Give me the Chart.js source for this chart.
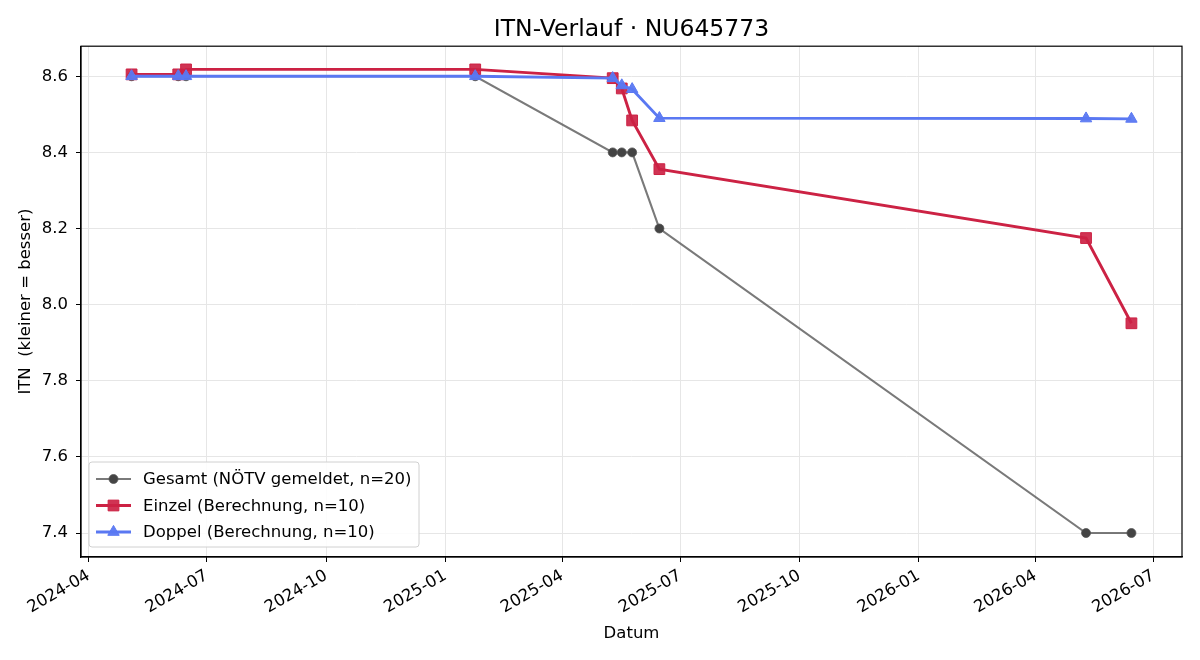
<!DOCTYPE html>
<html><head><meta charset="utf-8">
<script src="https://cdn.jsdelivr.net/npm/chart.js@4.4.1/dist/chart.umd.min.js"></script>
<style>html,body{margin:0;padding:0;background:#fff}#wrap{width:1200px;height:660px}</style>
</head><body><div id="wrap"><canvas id="c" width="1200" height="660"></canvas></div>
<script>
const dates = ['2024-05-04','2024-06-09','2024-06-15','2025-01-24','2025-05-10','2025-05-17','2025-05-25','2025-06-15','2026-05-10','2026-06-14'];
const gesamt = [8.6, 8.6, 8.6, 8.6, 8.4, 8.4, 8.4, 8.2, 7.4, 7.4];
const einzel = [8.605, 8.605, 8.618, 8.618, 8.595, 8.568, 8.484, 8.356, 8.175, 7.951];
const doppel = [8.6, 8.6, 8.6, 8.6, 8.595, 8.576, 8.566, 8.49, 8.489, 8.488];
const xTickLabels = ['2024-04','2024-07','2024-10','2025-01','2025-04','2025-07','2025-10','2026-01','2026-04','2026-07'];
const yTickValues = [7.4, 7.6, 7.8, 8.0, 8.2, 8.4, 8.6];
const labels = ['Gesamt (NÖTV gemeldet, n=20)','Einzel (Berechnung, n=10)','Doppel (Berechnung, n=10)'];

const ts = s => { const p = s.split('-').map(Number); return Date.UTC(p[0], p[1]-1, p[2] || 1); };
const xs = dates.map(ts);
const pts = arr => arr.map((v,i)=>({x:xs[i], y:v}));
const xTickValues = xTickLabels.map(ts);

const FONT = "'DejaVu Sans', sans-serif";
const FS = 16.5;
const cGray = 'rgba(85,85,85,0.78)', cGrayPt = '#444444';
const cRed = '#cc2244', cRedPt = 'rgba(204,34,68,0.92)';
const cBlue = '#5a78f2', cBluePt = 'rgba(90,120,242,0.95)';

const styles = [
  {line:cGray, pt:cGrayPt, w:2.1, shape:'circle', r:4.5},
  {line:cRed, pt:cRedPt, w:2.9, shape:'rect', r:7.6},
  {line:cBlue, pt:cBluePt, w:2.9, shape:'triangle', r:6.6}
];

const framePlugin = {
  id:'frame',
  afterDraw(chart){
    const {ctx, chartArea:a} = chart;
    ctx.save();
    ctx.strokeStyle = '#000'; ctx.lineWidth = 1.2;
    ctx.strokeRect(a.left, a.top, a.right-a.left, a.bottom-a.top);
    // legend
    const bx = a.left + 8, by = a.bottom - 95, bw = 330, bh = 85;
    ctx.fillStyle = 'rgba(255,255,255,0.85)';
    ctx.strokeStyle = '#d0d0d0'; ctx.lineWidth = 1;
    ctx.beginPath();
    if (ctx.roundRect) ctx.roundRect(bx, by, bw, bh, 3); else ctx.rect(bx,by,bw,bh);
    ctx.fill(); ctx.stroke();
    ctx.font = FS + "px " + FONT; ctx.textBaseline = 'middle'; ctx.textAlign = 'left';
    labels.forEach((lab,i)=>{
      const y = by + 17 + i*26.5;
      const s = styles[i];
      const cx = bx + 24.5;
      ctx.strokeStyle = s.line; ctx.lineWidth = s.w;
      ctx.beginPath(); ctx.moveTo(bx+7, y); ctx.lineTo(bx+42, y); ctx.stroke();
      ctx.fillStyle = s.pt; ctx.strokeStyle = s.line; ctx.lineWidth = 1;
      ctx.beginPath();
      if (s.shape==='circle'){ ctx.arc(cx,y,s.r,0,Math.PI*2); }
      else if (s.shape==='rect'){ const h=s.r*Math.SQRT1_2; ctx.rect(cx-h,y-h,2*h,2*h); }
      else { const r=s.r; ctx.moveTo(cx, y-r); ctx.lineTo(cx+r*0.866, y+r*0.5); ctx.lineTo(cx-r*0.866, y+r*0.5); ctx.closePath(); }
      ctx.fill(); ctx.stroke();
      ctx.fillStyle = '#000';
      ctx.fillText(lab, bx+54, y+1);
    });
    ctx.restore();
  }
};

const mk = (i, data, order) => ({
  label: labels[i], data, order,
  borderColor: styles[i].line, borderWidth: styles[i].w,
  pointStyle: styles[i].shape, pointRadius: styles[i].r, pointHoverRadius: styles[i].r,
  pointBackgroundColor: styles[i].pt, pointBorderColor: styles[i].line, pointBorderWidth: 1,
  fill:false, tension:0
});

new Chart(document.getElementById('c'), {
  type:'line',
  data:{ datasets:[ mk(0, pts(gesamt), 3), mk(1, pts(einzel), 2), mk(2, pts(doppel), 1) ] },
  options:{
    responsive:false, animation:false, devicePixelRatio:1,
    layout:{ padding:{left:16, right:18, top:0, bottom:0} },
    plugins:{
      legend:{display:false}, tooltip:{enabled:false},
      title:{ display:true, text:'ITN-Verlauf · NU645773', fullSize:false, color:'#000',
        font:{family:FONT, size:23.5, weight:'normal'}, padding:{top:16, bottom:2} }
    },
    scales:{
      x:{ type:'linear', min:ts('2024-03-26'), max:ts('2026-07-23'),
        afterBuildTicks: s => { s.ticks = xTickValues.map(v=>({value:v})); },
        afterFit: s => { s.height = 103; },
        ticks:{ color:'#000', font:{family:FONT, size:FS}, minRotation:30, maxRotation:30, padding:4,
          callback:(v)=>{ const k = xTickValues.indexOf(v); return k>=0 ? xTickLabels[k] : ''; } },
        grid:{ color:'#e6e6e6', lineWidth:1, tickColor:'#000', tickLength:5 },
        border:{ color:'#000', width:1.2 },
        title:{ display:true, text:'Datum', color:'#000', font:{family:FONT, size:FS}, padding:{top:0, bottom:16} }
      },
      y:{ type:'linear', min:7.337, max:8.679,
        afterBuildTicks: s => { s.ticks = yTickValues.map(v=>({value:v})); },
        afterFit: s => { s.width = 65; },
        ticks:{ color:'#000', font:{family:FONT, size:FS}, padding:8, callback:v=>Number(v).toFixed(1) },
        grid:{ color:'#e6e6e6', lineWidth:1, tickColor:'#000', tickLength:5 },
        border:{ color:'#000', width:1.2 },
        title:{ display:true, text:'ITN  (kleiner = besser)', color:'#000', font:{family:FONT, size:FS}, padding:{top:0,bottom:0} }
      }
    }
  },
  plugins:[framePlugin]
});
</script></body></html>
